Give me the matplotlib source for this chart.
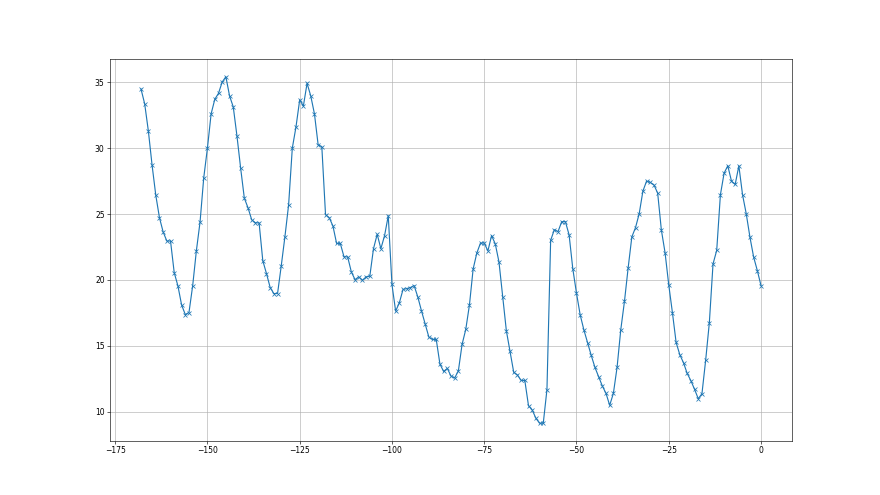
import numpy as np
import matplotlib
matplotlib.use("Agg")
import matplotlib.pyplot as plt

x_values = list(range(-168, 1))
y_values = [
    34.49, 33.36, 31.29, 28.71, 26.44, 24.72, 23.64, 22.95, 22.95, 20.55,
    19.55, 18.10, 17.37, 17.52, 19.55, 22.20, 24.39, 27.75, 30.00, 32.60,
    33.71, 34.16, 35.02, 35.42, 33.96, 33.13, 30.93, 28.48, 26.20, 25.47,
    24.56, 24.33, 24.33, 21.46, 20.48, 19.42, 18.96, 18.96, 21.06, 23.28,
    25.70, 30.00, 31.62, 33.66, 33.20, 34.92, 33.96, 32.60, 30.25, 30.10,
    24.95, 24.72, 24.10, 22.77, 22.77, 21.76, 21.74, 20.60, 20.02, 20.23,
    19.97, 20.23, 20.28, 22.37, 23.46, 22.37, 23.36, 24.87, 19.65, 17.63,
    18.26, 19.27, 19.34, 19.42, 19.57, 18.71, 17.65, 16.67, 15.66, 15.48,
    15.48, 13.61, 13.05, 13.28, 12.70, 12.55, 13.10, 15.10, 16.24, 18.10,
    20.83, 22.04, 22.80, 22.80, 22.20, 23.36, 22.73, 21.36, 18.71, 16.14,
    14.57, 12.98, 12.78, 12.37, 12.37, 10.45, 10.13, 9.50, 9.12, 9.12,
    11.67, 23.00, 23.81, 23.66, 24.42, 24.42, 23.42, 20.85, 19.00, 17.35,
    16.21, 15.23, 14.27, 13.36, 12.65, 11.95, 11.39, 10.48, 11.39, 13.36,
    16.21, 18.36, 20.91, 23.26, 23.97, 25.03, 26.74, 27.50, 27.40, 27.20,
    26.59, 23.79, 22.07, 19.63, 17.51, 15.25, 14.32, 13.71, 12.90, 12.35,
    11.69, 10.98, 11.36, 13.89, 16.74, 21.21, 22.24, 26.46, 28.10, 28.66,
    27.50, 27.24, 28.66, 26.46, 25.02, 23.25, 21.74, 20.71, 19.57,
]

fig, ax = plt.subplots(figsize=(16, 9), dpi=55)
ax.plot(x_values, y_values, marker='x', color='tab:blue')
ax.grid(True)
fig.savefig("out.png", dpi=55)
